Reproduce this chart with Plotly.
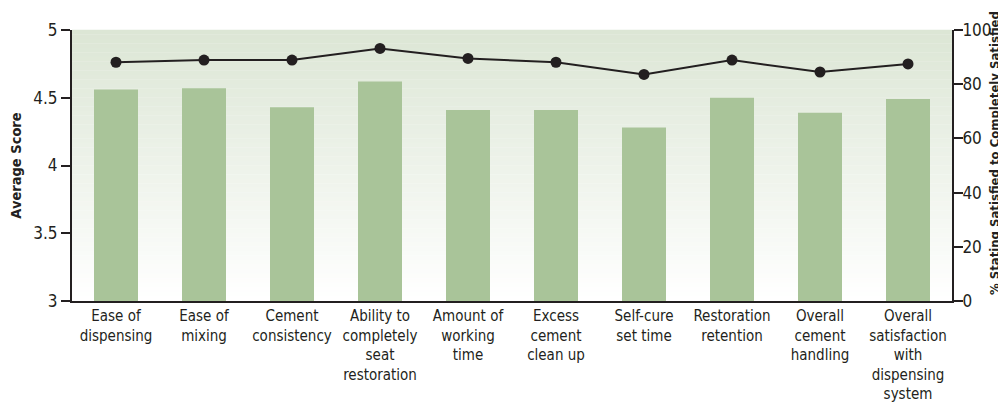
import plotly.graph_objects as go

categories = [
    "Ease of<br>dispensing",
    "Ease of<br>mixing",
    "Cement<br>consistency",
    "Ability to<br>completely<br>seat<br>restoration",
    "Amount of<br>working<br>time",
    "Excess<br>cement<br>clean up",
    "Self-cure<br>set time",
    "Restoration<br>retention",
    "Overall<br>cement<br>handling",
    "Overall<br>satisfaction<br>with<br>dispensing<br>system",
]
avg_score = [4.56, 4.57, 4.43, 4.62, 4.41, 4.41, 4.28, 4.50, 4.39, 4.49]
pct_satisfied = [88.1, 88.9, 88.9, 93.2, 89.5, 88.1, 83.6, 88.9, 84.5, 87.5]
left_ticks = [3, 3.5, 4, 4.5, 5]
left_ticklabels = ["3", "3.5", "4", "4.5", "5"]
right_ticks = [0, 20, 40, 60, 80, 100]

FONT = "DejaVu Sans Condensed, Liberation Sans Narrow, Arial Narrow, sans-serif"
INK = "#231f20"

fig = go.Figure()
x_idx = list(range(len(categories)))

fig.add_trace(go.Bar(
    x=x_idx, y=[v - 3 for v in avg_score], base=3,
    marker=dict(color="#a9c499", line=dict(width=0)),
    width=0.5, yaxis="y", showlegend=False,
))
fig.add_trace(go.Scatter(
    x=x_idx, y=pct_satisfied, yaxis="y2", mode="lines+markers",
    line=dict(color=INK, width=2),
    marker=dict(color=INK, size=11),
    showlegend=False,
))

# vertical gradient background (decoration)
top = (220, 230, 213)
bot = (255, 255, 255)
n = 60
shapes = []
for i in range(n):
    t = i / (n - 1)
    c = tuple(round(top[k] + (bot[k] - top[k]) * t) for k in range(3))
    shapes.append(dict(
        type="rect", xref="x domain", yref="y domain",
        x0=0, x1=1, y0=1 - (i + 1) / n, y1=1 - i / n + 0.001,
        fillcolor="rgb(%d,%d,%d)" % c, line=dict(width=0), layer="below",
    ))

fig.update_layout(
    width=1006, height=405,
    margin=dict(l=64, r=62, t=22, b=112, autoexpand=False),
    paper_bgcolor="white", plot_bgcolor="rgba(0,0,0,0)",
    font=dict(family=FONT, size=15, color=INK),
    shapes=shapes,
    bargap=0.5,
    xaxis=dict(
        range=[-0.5, len(categories) - 0.5], automargin=False,
        tickmode="array", tickvals=x_idx, ticktext=categories,
        showgrid=False, zeroline=False, showline=True,
        linecolor=INK, linewidth=2, ticks="",
        tickfont=dict(family=FONT, size=15, color=INK),
    ),
    yaxis=dict(
        range=[3, 5], automargin=False,
        tickmode="array", tickvals=left_ticks, ticktext=left_ticklabels,
        showgrid=False, zeroline=False, showline=True, linecolor=INK, linewidth=2,
        ticks="outside", ticklen=9, tickwidth=2, tickcolor=INK,
        tickfont=dict(family=FONT, size=17, color=INK),
        title=dict(text="<b>Average Score</b>", standoff=12,
                   font=dict(family=FONT, size=14.5, color=INK)),
    ),
    yaxis2=dict(
        range=[0, 100], overlaying="y", side="right", automargin=False,
        tickmode="array", tickvals=right_ticks,
        showgrid=False, zeroline=False, showline=True, linecolor=INK, linewidth=2,
        ticks="outside", ticklen=9, tickwidth=2, tickcolor=INK,
        ticklabelstandoff=-4,
        tickfont=dict(family=FONT, size=17, color=INK),
    ),
    annotations=[dict(
        text="<b>% Stating Satisfied to Completely Satisfied</b>",
        xref="paper", yref="paper", x=1.0, xshift=42, xanchor="center",
        y=0.0, yshift=4, yanchor="bottom", textangle=-90, showarrow=False,
        font=dict(family=FONT, size=13, color=INK),
    )],
)

fig.write_html("out.html")
